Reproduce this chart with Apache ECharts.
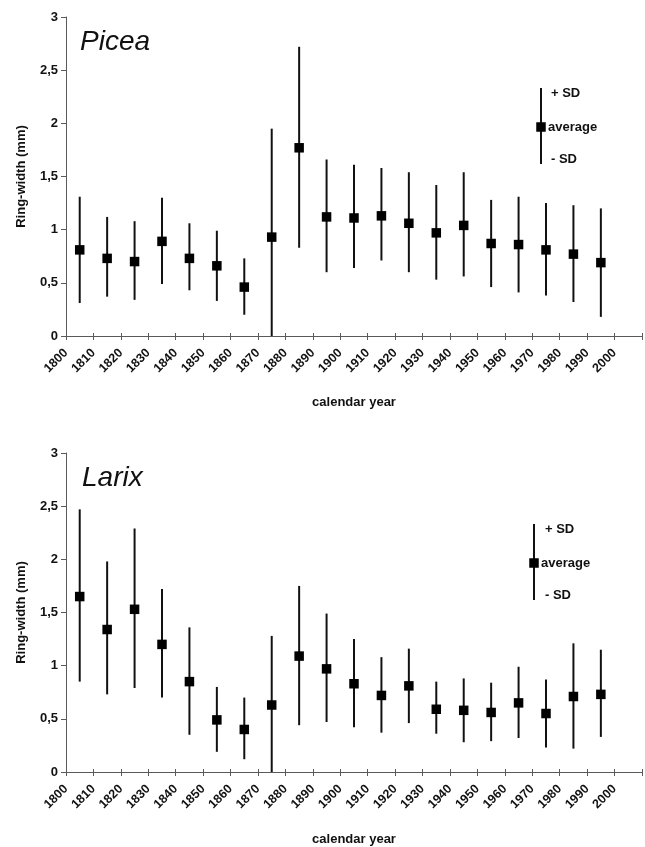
<!DOCTYPE html>
<html>
<head>
<meta charset="utf-8">
<script src="https://cdn.jsdelivr.net/npm/echarts@6/dist/echarts.min.js"></script>
<style>
  html, body { margin: 0; padding: 0; background: #fff; }
  #chart { width: 645px; height: 847px; }
</style>
</head>
<body>
<div id="chart"></div>
<script>
// mid-decade years of each ring-width mean
const years = [1805, 1815, 1825, 1835, 1845, 1855, 1865, 1875, 1885, 1895,
               1905, 1915, 1925, 1935, 1945, 1955, 1965, 1975, 1985, 1995];

// Picea: average, +SD and -SD ends (mm)
const piceaMean  = [0.81, 0.73, 0.70, 0.89, 0.73, 0.66, 0.46, 0.93, 1.77, 1.12,
                    1.11, 1.13, 1.06, 0.97, 1.04, 0.87, 0.86, 0.81, 0.77, 0.69];
const piceaUpper = [1.31, 1.12, 1.08, 1.30, 1.06, 0.99, 0.73, 1.95, 2.72, 1.66,
                    1.61, 1.58, 1.54, 1.42, 1.54, 1.28, 1.31, 1.25, 1.23, 1.20];
const piceaLower = [0.31, 0.37, 0.34, 0.49, 0.43, 0.33, 0.20, -0.09, 0.83, 0.60,
                    0.64, 0.71, 0.60, 0.53, 0.56, 0.46, 0.41, 0.38, 0.32, 0.18];

// Larix: average, +SD and -SD ends (mm)
const larixMean  = [1.65, 1.34, 1.53, 1.20, 0.85, 0.49, 0.40, 0.63, 1.09, 0.97,
                    0.83, 0.72, 0.81, 0.59, 0.58, 0.56, 0.65, 0.55, 0.71, 0.73];
const larixUpper = [2.47, 1.98, 2.29, 1.72, 1.36, 0.80, 0.70, 1.28, 1.75, 1.49,
                    1.25, 1.08, 1.16, 0.85, 0.88, 0.84, 0.99, 0.87, 1.21, 1.15];
const larixLower = [0.85, 0.73, 0.79, 0.70, 0.35, 0.19, 0.12, -0.03, 0.44, 0.47,
                    0.42, 0.37, 0.46, 0.36, 0.28, 0.29, 0.32, 0.23, 0.22, 0.33];

const yTicks = [0, 0.5, 1, 1.5, 2, 2.5, 3];

const FONT = '"Liberation Sans", Arial, sans-serif';
const AXIS_COLOR = '#5a5a5a';
const MARK = 9.5;   // square size

const chart = echarts.init(document.getElementById('chart'), null, {renderer: 'canvas'});

function rows(mean, upper, lower){
    return years.map((y, i) => [y, mean[i], lower[i], upper[i]]);
}

// error bar + square marker
function renderBar(params, api){
    const x = api.value(0);
    const pMean = api.coord([x, api.value(1)]);
    const pLow = api.coord([x, api.value(2)]);
    const pHigh = api.coord([x, api.value(3)]);
    return {
        type: 'group',
        children: [
            {type: 'line', shape: {x1: pLow[0], y1: pLow[1], x2: pHigh[0], y2: pHigh[1]},
             style: {stroke: '#111', lineWidth: 2}},
            {type: 'rect', shape: {x: pMean[0] - MARK / 2, y: pMean[1] - MARK / 2, width: MARK, height: MARK},
             style: {fill: '#000'}}
        ]
    };
}

const grids = [
    {left: 66, top: 17, width: 576, height: 319},
    {left: 66, top: 453, width: 576, height: 324}
];

function xAxes(gi){
    const base = {
        type: 'value', gridIndex: gi, position: 'bottom', min: 1800, max: 2010, interval: 10,
        splitLine: {show: false}
    };
    return [
        Object.assign({}, base, {
            name: 'calendar year', nameLocation: 'middle', nameGap: gi === 0 ? 60 : 61,
            nameTextStyle: {fontFamily: FONT, fontWeight: 'bold', fontSize: 13, color: '#111'},
            axisLine: {lineStyle: {color: AXIS_COLOR, width: 1}},
            axisTick: {length: 4, lineStyle: {color: AXIS_COLOR}},
            axisLabel: {
                rotate: 45, margin: 15, fontFamily: FONT, fontWeight: 'bold', fontSize: 12.5, color: '#111',
                formatter: v => v === 2010 ? '' : String(v)
            }
        }),
        // inner half of the crossing ticks
        Object.assign({}, base, {
            axisLine: {show: false},
            axisTick: {inside: true, length: 3, lineStyle: {color: AXIS_COLOR}},
            axisLabel: {show: false}
        })
    ];
}

function yAxis(gi){
    return {
        type: 'value', gridIndex: gi, min: yTicks[0], max: yTicks[yTicks.length - 1], interval: 0.5,
        name: 'Ring-width (mm)', nameLocation: 'middle', nameGap: 38,
        nameTextStyle: {fontFamily: FONT, fontWeight: 'bold', fontSize: 13, color: '#111'},
        splitLine: {show: false},
        axisLine: {show: true, lineStyle: {color: AXIS_COLOR, width: 1}},
        axisTick: {show: true, length: 5, lineStyle: {color: AXIS_COLOR}},
        axisLabel: {
            margin: 8, fontFamily: FONT, fontWeight: 'bold', fontSize: 13, color: '#111',
            formatter: v => String(v).replace('.', ',')
        }
    };
}

// the small "+ SD / average / - SD" key
function keyGraphic(x, yTop, yBottom, yMid, txtX, txtPlus, txtMinus){
    const txt = (t, left, y) => ({
        type: 'text', left: left, top: y - 6,
        style: {text: t, fontFamily: FONT, fontWeight: 'bold', fontSize: 13, fill: '#111'}
    });
    return [
        {type: 'line', shape: {x1: x, y1: yTop, x2: x, y2: yBottom}, style: {stroke: '#111', lineWidth: 2}},
        {type: 'rect', shape: {x: x - MARK / 2, y: yMid - MARK / 2, width: MARK, height: MARK}, style: {fill: '#000'}},
        txt('+ SD', txtPlus, yTop + 5),
        txt('average', txtX, yMid),
        txt('- SD', txtMinus, yBottom - 5)
    ];
}

const option = {
    backgroundColor: '#fff',
    animation: false,
    title: [
        {text: 'Picea', left: 80, top: 28, padding: 0,
         textStyle: {fontFamily: FONT, fontStyle: 'italic', fontWeight: 'normal', fontSize: 28, color: '#111'}},
        {text: 'Larix', left: 82, top: 464, padding: 0,
         textStyle: {fontFamily: FONT, fontStyle: 'italic', fontWeight: 'normal', fontSize: 28, color: '#111'}}
    ],
    grid: grids,
    xAxis: xAxes(0).concat(xAxes(1)),
    yAxis: [yAxis(0), yAxis(1)],
    series: [
        {type: 'custom', name: 'Picea', xAxisIndex: 0, yAxisIndex: 0, clip: true,
         renderItem: renderBar, encode: {x: 0, y: [1, 2, 3]}, data: rows(piceaMean, piceaUpper, piceaLower)},
        {type: 'custom', name: 'Larix', xAxisIndex: 2, yAxisIndex: 1, clip: true,
         renderItem: renderBar, encode: {x: 0, y: [1, 2, 3]}, data: rows(larixMean, larixUpper, larixLower)}
    ],
    graphic: keyGraphic(541, 88, 164, 127, 548, 551, 551)
        .concat(keyGraphic(534, 524, 600, 563, 541, 545, 545))
};

chart.setOption(option);
window.addEventListener('resize', () => chart.resize());
</script>
</body>
</html>
